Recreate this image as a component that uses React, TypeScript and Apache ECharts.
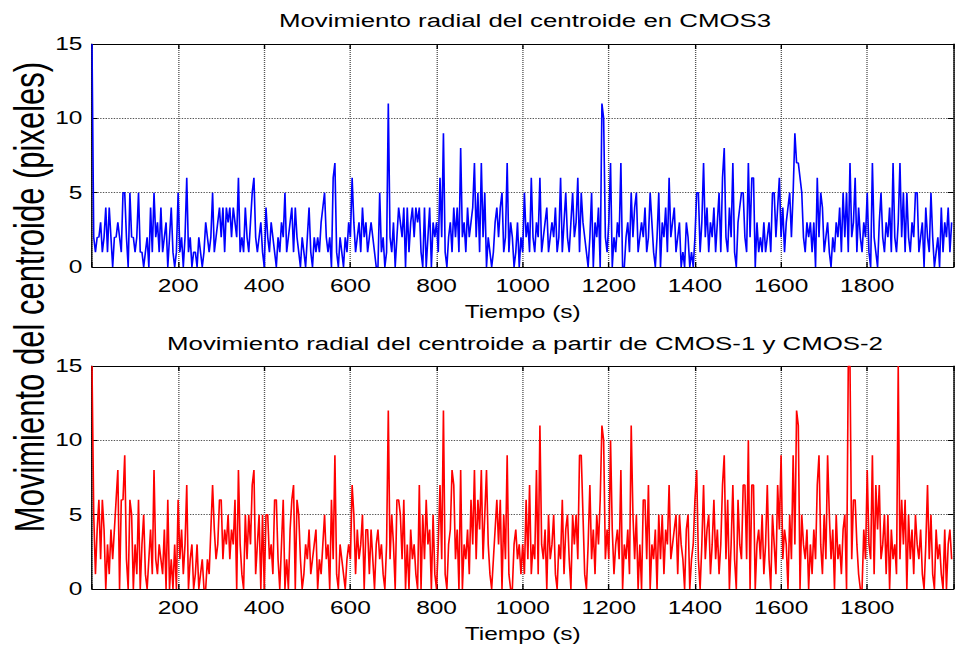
import React, { useEffect, useRef } from "react";
import * as echarts from "echarts";

// ---- data (one sample every 4 s) ----
const TIME_STEP_S = 4;

const cmos3Radial: number[] = [
  15, 2, 1, 2, 2, 3, 1, 2, 4, 1, 4, 2, 0, 2, 2, 3, 2, 1, 5, 5, 2, 0, 5, 2, 2, 1, 2, 5, 1, 1,
  0, 1, 2, 0, 4, 1, 5, 2, 3, 1, 4, 1, 2, 3, 0, 2, 4, 1, 0, 1,
  5, 1, 2, 0, 2, 6, 1, 2, 0, 1, 1, 0, 2, 1, 0, 1, 3, 2, 1, 2, 5, 1, 2, 3, 4, 2, 4, 1, 4, 3,
  4, 2, 4, 3, 2, 6, 1, 2, 1, 4, 2, 1, 3, 5, 6, 2, 1, 2, 3, 1,
  0, 4, 2, 1, 3, 2, 1, 0, 2, 1, 3, 2, 5, 1, 2, 3, 4, 1, 4, 2, 1, 0, 2, 1, 0, 2, 4, 1, 0, 2,
  1, 2, 1, 3, 4, 5, 2, 1, 2, 0, 6, 7, 1, 0, 2, 1, 0, 2, 1, 3,
  2, 6, 3, 1, 2, 3, 1, 4, 2, 3, 1, 2, 3, 2, 1, 0, 0, 5, 1, 2, 0, 1, 11, 2, 1, 3, 0, 2, 4, 3,
  2, 4, 0, 4, 1, 3, 4, 2, 4, 3, 4, 1, 0, 4, 0, 2, 4, 0, 3, 2,
  3, 1, 6, 2, 9, 1, 0, 2, 3, 1, 4, 2, 4, 1, 8, 2, 3, 1, 4, 2, 3, 4, 7, 2, 5, 1, 7, 2, 5, 0,
  2, 1, 0, 1, 3, 4, 2, 4, 5, 1, 2, 7, 1, 3, 2, 0, 1, 3, 0, 2,
  1, 5, 2, 3, 1, 6, 2, 1, 3, 2, 6, 1, 2, 3, 4, 1, 2, 3, 2, 4, 1, 2, 6, 1, 3, 5, 2, 1, 3, 5,
  2, 3, 6, 1, 5, 3, 2, 1, 0, 2, 5, 0, 3, 2, 4, 0, 11, 10, 2, 1,
  3, 7, 0, 2, 1, 3, 2, 7, 0, 0, 2, 3, 1, 5, 2, 4, 5, 1, 2, 3, 2, 4, 1, 2, 5, 3, 1, 0, 2, 5,
  0, 3, 2, 4, 1, 6, 2, 3, 4, 1, 2, 3, 0, 1, 0, 3, 2, 0, 1, 0,
  2, 5, 5, 1, 3, 7, 2, 4, 1, 3, 2, 4, 1, 3, 5, 1, 6, 8, 2, 1, 4, 2, 7, 1, 0, 3, 4, 5, 5, 2,
  1, 7, 2, 6, 6, 0, 3, 1, 2, 1, 3, 1, 2, 3, 1, 5, 5, 2, 4, 6,
  2, 4, 1, 3, 4, 5, 2, 5, 9, 7, 7, 6, 5, 2, 1, 3, 2, 3, 1, 3, 0, 6, 2, 5, 4, 1, 2, 3, 1, 0,
  2, 1, 3, 2, 4, 1, 5, 2, 5, 1, 7, 2, 3, 6, 1, 4, 2, 1, 3, 2,
  5, 1, 0, 7, 2, 1, 0, 3, 5, 2, 1, 3, 2, 4, 1, 7, 2, 1, 3, 7, 2, 5, 1, 5, 2, 1, 3, 2, 5, 5,
  1, 2, 3, 0, 4, 2, 1, 5, 2, 0, 1, 2, 0, 4, 1, 3, 2, 4, 1, 3,
];

const cmos12Radial: number[] = [
  15, 5, 1, 4, 6, 2, 6, 4, 0, 3, 1, 4, 2, 4, 6, 8, 0, 6, 6, 9, 2, 0, 6, 5, 0, 3, 1, 6, 0, 3,
  5, 1, 0, 2, 4, 1, 8, 2, 1, 3, 2, 1, 4, 0, 6, 0, 2, 0, 3, 0,
  6, 2, 4, 1, 3, 7, 0, 2, 3, 0, 1, 3, 0, 1, 2, 0, 0, 2, 1, 4, 7, 4, 2, 3, 6, 6, 2, 4, 3, 5,
  2, 4, 3, 6, 0, 8, 3, 1, 0, 5, 2, 5, 3, 7, 8, 1, 3, 5, 0, 5,
  0, 5, 5, 2, 3, 1, 6, 6, 2, 0, 3, 6, 0, 2, 0, 4, 6, 7, 0, 6, 5, 2, 0, 1, 3, 2, 4, 1, 2, 3,
  4, 0, 2, 1, 3, 5, 2, 3, 0, 6, 2, 9, 1, 0, 3, 2, 1, 0, 2, 3,
  2, 7, 5, 1, 4, 2, 3, 5, 0, 4, 4, 1, 4, 2, 0, 3, 4, 2, 3, 1, 0, 3, 12, 2, 5, 3, 0, 6, 6, 5,
  2, 6, 0, 3, 0, 4, 2, 3, 1, 0, 7, 0, 5, 2, 6, 3, 4, 0, 5, 1,
  0, 3, 7, 2, 12, 1, 0, 3, 4, 8, 7, 2, 4, 0, 8, 0, 3, 2, 4, 1, 6, 3, 8, 2, 6, 4, 8, 2, 5, 8,
  3, 1, 0, 2, 4, 6, 3, 6, 0, 5, 2, 9, 1, 0, 0, 3, 4, 2, 3, 1,
  3, 1, 6, 2, 7, 1, 3, 2, 8, 1, 11, 3, 2, 4, 0, 5, 2, 3, 5, 1, 0, 3, 2, 6, 1, 4, 5, 2, 0, 5,
  3, 5, 2, 9, 9, 5, 1, 0, 3, 7, 2, 4, 1, 5, 3, 6, 11, 10, 2, 4,
  2, 10, 4, 1, 3, 4, 2, 8, 0, 3, 2, 4, 1, 11, 5, 2, 5, 0, 3, 0, 6, 6, 2, 7, 0, 3, 2, 4, 0, 5,
  2, 5, 1, 4, 3, 7, 2, 3, 4, 5, 1, 5, 3, 2, 0, 4, 5, 0, 2, 3,
  6, 8, 2, 0, 3, 7, 2, 4, 5, 1, 3, 6, 2, 4, 1, 3, 7, 9, 2, 6, 0, 3, 7, 2, 0, 6, 3, 2, 7, 7,
  2, 10, 0, 7, 7, 0, 3, 4, 2, 5, 1, 3, 7, 2, 0, 5, 3, 1, 7, 4,
  9, 2, 4, 3, 0, 5, 2, 9, 3, 12, 11, 0, 5, 3, 2, 4, 0, 3, 1, 4, 2, 7, 9, 3, 1, 5, 2, 9, 5, 2,
  4, 0, 5, 2, 3, 1, 4, 5, 0, 15, 15, 2, 6, 6, 3, 1, 0, 0, 4, 2,
  8, 3, 2, 9, 1, 7, 4, 7, 2, 3, 5, 1, 5, 0, 4, 2, 3, 1, 15, 2, 6, 3, 6, 0, 5, 2, 4, 1, 5, 3,
  2, 4, 1, 0, 3, 7, 2, 5, 1, 0, 4, 2, 3, 1, 0, 4, 0, 3, 4, 2,
];

const xTickLabels: number[] = [200, 400, 600, 800, 1000, 1200, 1400, 1600, 1800];
const yTickLabels: number[] = [0, 5, 10, 15];

const topTitle = "Movimiento radial del centroide en CMOS3";
const bottomTitle = "Movimiento radial del centroide a partir de CMOS-1 y CMOS-2";
const xName = "Tiempo (s)";
const yName = "Movimiento del centroide (pixeles)";

// ---- layout (the original figure is horizontally stretched) ----
const STRETCH = 1.36;
const W = 958 / STRETCH;
const H = 650;
const FONT = "'Liberation Sans', Arial, Helvetica, sans-serif";

const toPairs = (vals: number[]) => vals.map((v, i) => [i * TIME_STEP_S, v]);

function xAxes(gridIndex: number) {
  const common = {
    type: "value" as const,
    gridIndex,
    min: 0,
    max: 2000,
    interval: 200,
  };
  return [
    {
      ...common,
      position: "bottom",
      axisLine: { show: true, onZero: false, lineStyle: { color: "#000", width: 1 } },
      axisTick: { show: true, inside: true, length: 5, lineStyle: { color: "#000" } },
      axisLabel: {
        show: true,
        margin: 10,
        color: "#000",
        fontSize: 18,
        fontFamily: FONT,
        formatter: (v: number) => (xTickLabels.includes(v) ? String(v) : ""),
      },
      splitLine: { show: true, lineStyle: { color: "#555", type: "dotted", width: 1 } },
      name: xName,
      nameLocation: "middle",
      nameGap: 36,
      nameTextStyle: { color: "#000", fontSize: 18, fontFamily: FONT },
    },
    {
      ...common,
      position: "top",
      axisLine: { show: true, onZero: false, lineStyle: { color: "#000", width: 1 } },
      axisTick: { show: true, inside: true, length: 5, lineStyle: { color: "#000" } },
      axisLabel: { show: false },
      splitLine: { show: false },
    },
  ];
}

function yAxes(gridIndex: number) {
  const common = {
    type: "value" as const,
    gridIndex,
    min: 0,
    max: 15,
    interval: 5,
  };
  return [
    {
      ...common,
      position: "left",
      axisLine: { show: true, onZero: false, lineStyle: { color: "#000", width: 1 } },
      axisTick: { show: true, inside: true, length: 4, lineStyle: { color: "#000" } },
      axisLabel: {
        show: true,
        margin: 7,
        color: "#000",
        fontSize: 18,
        fontFamily: FONT,
        formatter: (v: number) => (yTickLabels.includes(v) ? String(v) : ""),
      },
      splitLine: { show: true, lineStyle: { color: "#555", type: "dotted", width: 1 } },
    },
    {
      ...common,
      position: "right",
      axisLine: { show: true, onZero: false, lineStyle: { color: "#000", width: 1 } },
      axisTick: { show: true, inside: true, length: 4, lineStyle: { color: "#000" } },
      axisLabel: { show: false },
      splitLine: { show: false },
    },
  ];
}

export default function App() {
  const ref = useRef<HTMLDivElement>(null);

  useEffect(() => {
    if (!ref.current) return;
    const chart = echarts.init(ref.current, null, { renderer: "svg" });
    const gridLeft = 92 / STRETCH;
    const gridWidth = 866 / STRETCH;
    const option: any = {
      animation: false,
      backgroundColor: "#fff",
      grid: [
        { left: gridLeft, top: 44, width: gridWidth, height: 223 },
        { left: gridLeft, top: 366, width: gridWidth, height: 223 },
      ],
      xAxis: [...xAxes(0), ...xAxes(1)],
      yAxis: [...yAxes(0), ...yAxes(1)],
      graphic: [
        {
          type: "text",
          x: 525 / STRETCH,
          y: 20,
          style: {
            text: topTitle,
            fontSize: 19,
            fontFamily: FONT,
            fill: "#000",
            textAlign: "center",
            textVerticalAlign: "middle",
          },
        },
        {
          type: "text",
          x: 525 / STRETCH,
          y: 343,
          style: {
            text: bottomTitle,
            fontSize: 19,
            fontFamily: FONT,
            fill: "#000",
            textAlign: "center",
            textVerticalAlign: "middle",
          },
        },
        {
          type: "text",
          x: 30 / STRETCH,
          y: 297,
          rotation: Math.PI / 2,
          style: {
            text: yName,
            fontSize: 31,
            fontFamily: FONT,
            fill: "#000",
            textAlign: "center",
            textVerticalAlign: "middle",
          },
        },
      ],
      series: [
        {
          name: "CMOS3",
          type: "line",
          xAxisIndex: 0,
          yAxisIndex: 0,
          data: toPairs(cmos3Radial),
          showSymbol: false,
          symbol: "none",
          clip: true,
          silent: true,
          lineStyle: { color: "#0000ff", width: 1.2 },
        },
        {
          name: "CMOS-1 y CMOS-2",
          type: "line",
          xAxisIndex: 2,
          yAxisIndex: 2,
          data: toPairs(cmos12Radial),
          showSymbol: false,
          symbol: "none",
          clip: true,
          silent: true,
          lineStyle: { color: "#ff0000", width: 1.2 },
        },
      ],
    };
    chart.setOption(option);
    return () => chart.dispose();
  }, []);

  return (
    <div
      ref={ref}
      style={{
        position: "fixed",
        left: 0,
        top: 0,
        width: W,
        height: H,
        transform: `scaleX(${STRETCH})`,
        transformOrigin: "0 0",
        background: "#fff",
      }}
    />
  );
}
